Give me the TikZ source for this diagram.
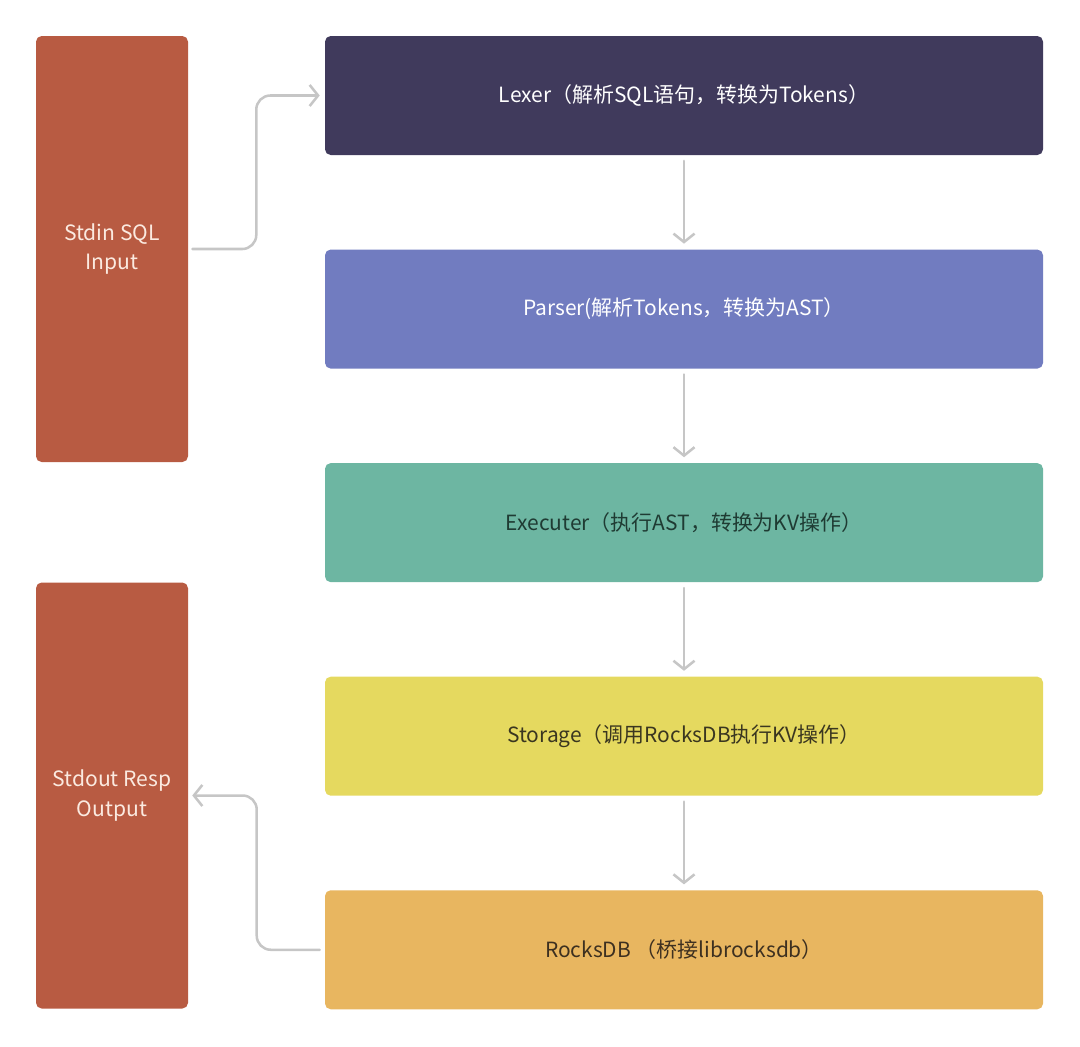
\documentclass[tikz,border=0pt]{standalone}
\usepackage{fontspec}
\setmainfont{Noto Sans CJK SC}
\usepackage{tikz}
\usetikzlibrary{arrows.meta,positioning,calc}

\definecolor{ioRust}{HTML}{B85B42}
\definecolor{ioText}{HTML}{FBEAE0}
\definecolor{lexFill}{HTML}{403A5C}
\definecolor{parFill}{HTML}{717CC0}
\definecolor{exeFill}{HTML}{6DB6A2}
\definecolor{stoFill}{HTML}{E5D95F}
\definecolor{rdbFill}{HTML}{E8B660}
\definecolor{exeText}{HTML}{1F3B33}
\definecolor{stoText}{HTML}{3A3620}
\definecolor{rdbText}{HTML}{3D3020}
\definecolor{flowGray}{HTML}{C6C6C6}

\begin{document}
\begin{tikzpicture}[
  iobox/.style={fill=ioRust, rectangle, rounded corners=4pt, minimum width=3.8cm,
    minimum height=10.65cm, align=center, text=ioText, font=\fontsize{15}{21}\selectfont,
    inner sep=0pt},
  stage/.style={rectangle, rounded corners=4pt, minimum width=17.95cm,
    minimum height=2.975cm, align=center, font=\fontsize{14.9}{17}\selectfont, inner sep=0pt},
  flow/.style={-{Straight Barb[length=6pt, width=15pt, line width=1.8pt]},
    draw=flowGray, line width=1.8pt, line cap=round},
]

\useasboundingbox (0,0) rectangle (27,-26.15);

%==================== KOLOM KANAN: tahapan ====================
\node[stage, fill=lexFill, text=white] (LEX) at (17.1,-2.3875)
  {Lexer（解析SQL语句，转换为Tokens）};
\node[stage, fill=parFill, text=white, below=2.35cm of LEX] (PAR)
  {Parser(解析Tokens，转换为AST）};
\node[stage, fill=exeFill, text=exeText, below=2.35cm of PAR] (EXE)
  {Executer（执行AST，转换为KV操作）};
\node[stage, fill=stoFill, text=stoText, below=2.35cm of EXE] (STO)
  {Storage（调用RocksDB执行KV操作）};
\node[stage, fill=rdbFill, text=rdbText, below=2.35cm of STO] (RDB)
  {RocksDB （桥接librocksdb）};

%==================== KOLOM KIRI: input / output ====================
\node[iobox] (IN) at (2.8,-6.225) {Stdin SQL\\Input};
\node[iobox] (OUT) at (2.8,-19.8875) {Stdout Resp\\Output};

%==================== ALIRAN ====================
\foreach \a/\b in {LEX/PAR, PAR/EXE, EXE/STO, STO/RDB}
  \draw[flow] ([yshift=-0.14cm]\a.south) -- ([yshift=0.14cm]\b.north);

% input masuk ke lexer
\draw[flow, rounded corners=10pt] ([xshift=0.1cm]IN.east) -- ([xshift=1.7cm]IN.east)
  |- ([xshift=-0.125cm]LEX.west);

% hasil dari rocksdb kembali ke output
\draw[flow, rounded corners=10pt] ([xshift=-0.125cm]RDB.west) -- ([xshift=-1.7cm]RDB.west)
  |- ([xshift=0.1cm]OUT.east);

\end{tikzpicture}
\end{document}
